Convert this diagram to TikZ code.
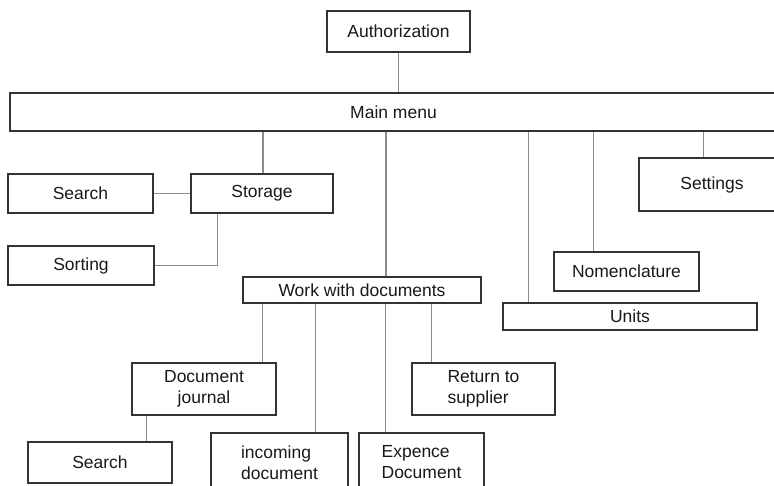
\documentclass[tikz,border=0pt]{standalone}
\usepackage{fontspec}
\setmainfont{Liberation Sans}
\begin{document}
\begin{tikzpicture}[x=1pt,y=-1pt,
  box/.style={draw=black!80, line width=1.5pt, fill=white, inner sep=0pt, text=black!90,
    font=\fontsize{17.5}{21}\selectfont, align=center},
  lbox/.style={box, align=left},
  conn/.style={draw=black!45, line width=1.2pt}]
\useasboundingbox (0,0) rectangle (774,486);
\clip (0,0) rectangle (774,486);
\fill[white] (0,0) rectangle (774,486);
\node[box, minimum width=143, minimum height=41] (auth) at (398.5,31.5) {Authorization};
\node[box, minimum width=767, minimum height=38] (main) at (393.5,112) {Main menu};
\node[box, minimum width=145, minimum height=39] (search1) at (80.5,193.5) {Search};
\node[box, minimum width=142, minimum height=39] (storage) at (262,193.5) {Storage};
\node[box, minimum width=146, minimum height=39] (sorting) at (81,265.5) {Sorting};
\node[box, minimum width=146, minimum height=53] (settings) at (712,184.5) {Settings};
\node[box, minimum width=145, minimum height=39] (nomen) at (626.5,271.5) {Nomenclature};
\node[box, minimum width=254, minimum height=27] (units) at (630,316.5) {Units};
\node[box, minimum width=238, minimum height=26] (work) at (362,290) {Work with documents};
\node[box, minimum width=144, minimum height=52] (docj) at (204,389) {Document\\journal};
\node[lbox, minimum width=143, minimum height=52] (ret) at (483.5,389) {Return to\\supplier};
\node[box, minimum width=144, minimum height=41] (search2) at (100,462.5) {Search};
\node[lbox, minimum width=137, minimum height=59] (incoming) at (279.5,462.5) {incoming\\document};
\node[lbox, minimum width=125, minimum height=59] (expence) at (421.5,462.5) {Expence\\Document};
\draw[conn] (auth.south) -- (auth.south |- main.north);
\draw[conn] ([xshift=1pt]storage.north) -- ([xshift=1pt]storage.north |- main.south);
\draw[conn] ([xshift=24pt]work.north) -- ([xshift=24pt]work.north |- main.south);
\draw[conn] ([xshift=26pt]units.north west) -- ([xshift=26pt]units.north west |- main.south);
\draw[conn] ([xshift=40pt]nomen.north west) -- ([xshift=40pt]nomen.north west |- main.south);
\draw[conn] ([xshift=65pt]settings.north west) -- ([xshift=65pt]settings.north west |- main.south);
\draw[conn] (search1.east) -- (storage.west);
\draw[conn] ([xshift=27pt]storage.south west) |- (sorting.east);
\draw[conn] ([xshift=20pt]work.south west) -- ([xshift=20pt]work.south west |- docj.north);
\draw[conn] ([xshift=73pt]work.south west) -- ([xshift=73pt]work.south west |- incoming.north);
\draw[conn] ([xshift=143pt]work.south west) -- ([xshift=143pt]work.south west |- expence.north);
\draw[conn] ([xshift=189pt]work.south west) -- ([xshift=189pt]work.south west |- ret.north);
\draw[conn] ([xshift=15pt]docj.south west) -- ([xshift=15pt]docj.south west |- search2.north);
\end{tikzpicture}
\end{document}
